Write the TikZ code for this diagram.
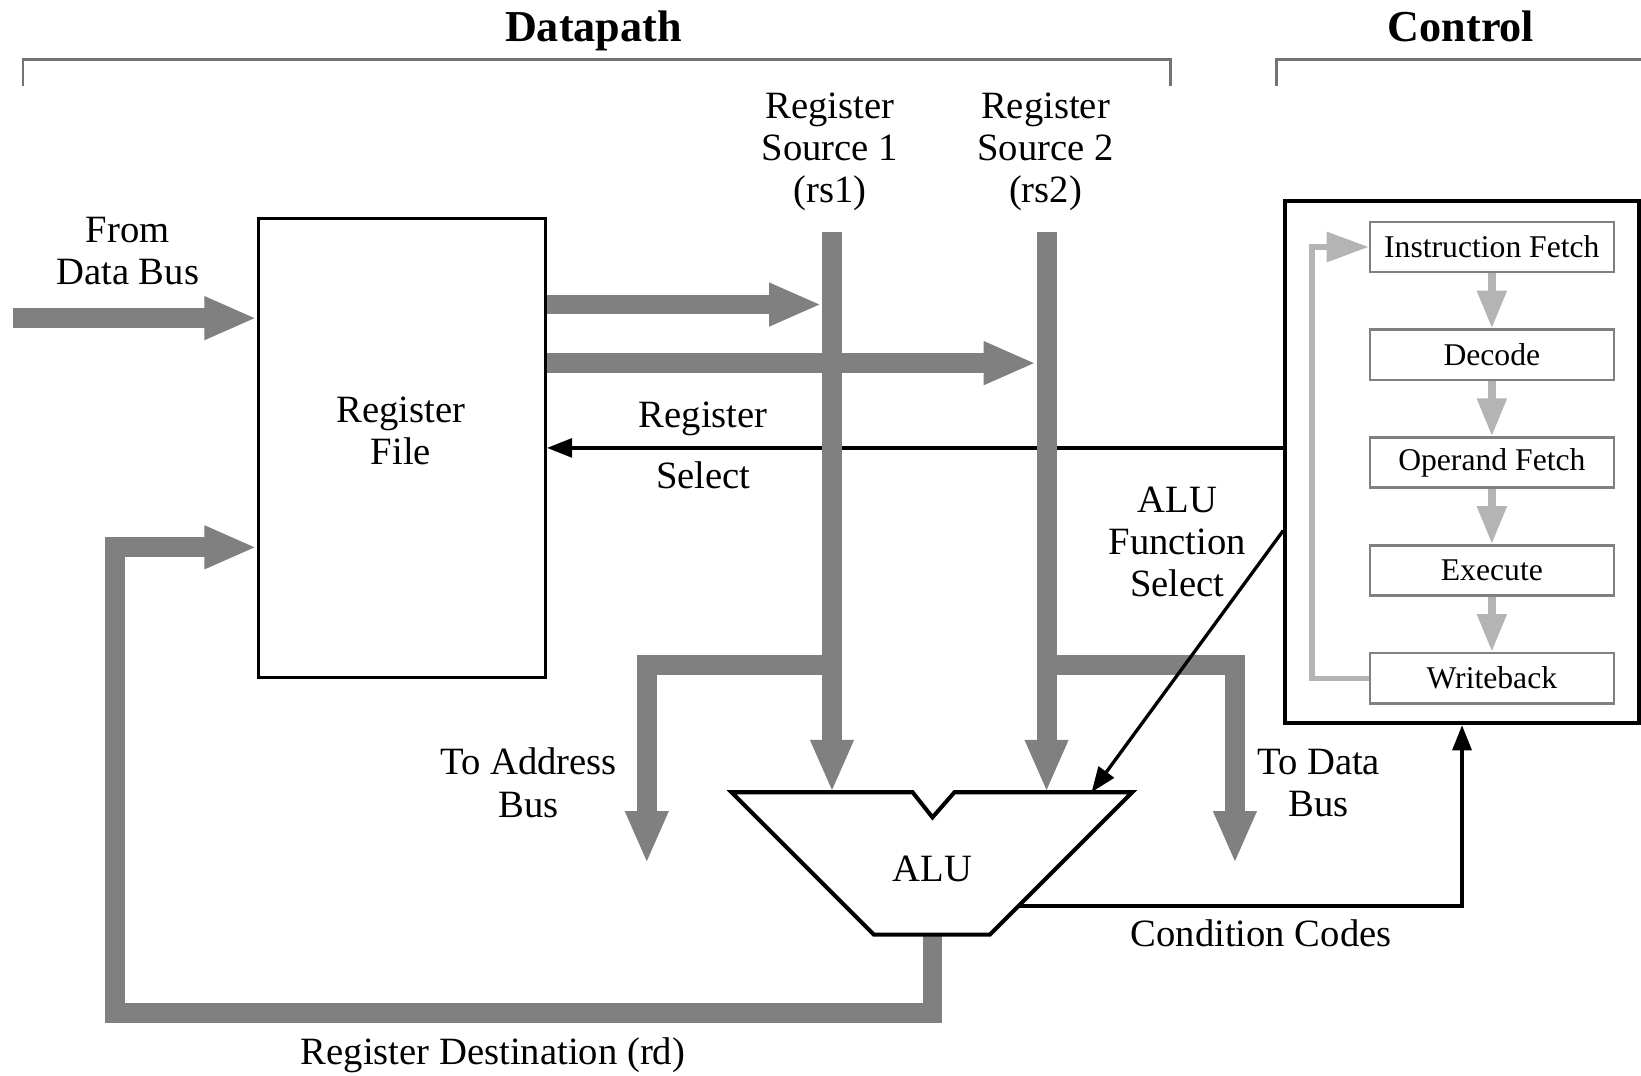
\documentclass[tikz,border=0pt]{standalone}
\usepackage{fontspec}
\setmainfont{Liberation Serif}
\usetikzlibrary{arrows.meta,positioning}

\definecolor{busgray}{RGB}{128,128,128}
\definecolor{stagegray}{RGB}{180,180,180}

\tikzset{
  lbl/.style={inner sep=0pt, align=center, font=\fontsize{10.5}{11.5}\selectfont},
  headlbl/.style={inner sep=0pt, anchor=base, font=\bfseries\fontsize{12}{14}\selectfont},
  bus/.style={draw=busgray, line width=0.19cm},
  busarrow/.style={bus, -{Triangle[length=0.5cm, width=0.38cm]}},
  sig/.style={draw=black, line width=0.9pt},
  sigarrow/.style={sig, -{Triangle[length=0.24cm, width=0.18cm]}},
  stagebox/.style={draw=black!50, line width=0.7pt, fill=white,
    minimum width=2.33cm, minimum height=0.48cm, inner sep=0pt,
    font=\fontsize{8.6}{10}\selectfont},
  stagearrow/.style={draw=stagegray, line width=0.07cm,
    -{Triangle[length=0.36cm, width=0.27cm]}},
  bracket/.style={draw=black!55, line width=0.8pt},
}

\begin{document}
\begin{tikzpicture}[x=0.01cm, y=-0.01cm]
  \useasboundingbox (0,0) rectangle (1568,1028);

  % headings
  \node[headlbl] (dphead) at (567,40) {Datapath};
  \node[headlbl] (cthead) at (1396,40) {Control};
  \draw[bracket] (22,82) -- (22,57) -- (1118,57) -- (1118,82);
  \draw[bracket] (1220,82) -- (1220,57) -- (1575,57);

  % register file
  \node[draw, line width=0.9pt, minimum width=2.74cm, minimum height=4.38cm,
    inner sep=0pt] (rf) at (384,428) {};
  \node[lbl] (rflbl) at (383,412) {Register\\File};

  % control unit
  \node[draw, line width=1pt, minimum width=3.38cm, minimum height=4.99cm,
    inner sep=0pt] (ctrl) at (1397,441.5) {};
  \foreach \name/\txt [count=\i from 0] in {ifetch/Instruction Fetch,
      decode/Decode, ofetch/Operand Fetch, exec/Execute, wback/Writeback}
    \node[stagebox] (\name) at (1425.5,236+103*\i) {\txt};
  \foreach \a/\b in {ifetch/decode, decode/ofetch, ofetch/exec, exec/wback}
    \draw[stagearrow] (\a) -- (\b);
  \draw[draw=stagegray, line width=0.05cm,
    -{Triangle[length=0.4cm, width=0.28cm]}]
    (wback.west) -- ++(-54,0) |- (ifetch.west);

  % source registers
  \node[lbl] (rs1) at (793,145) {Register\\Source 1\\(rs1)};
  \node[lbl] (rs2) at (999,145) {Register\\Source 2\\(rs2)};
  \coordinate (rs1top) at (795,222);
  \coordinate (rs2top) at (1000,222);
  \coordinate (rs1in) at (785,291);
  \coordinate (rs2in) at (990,347);
  \coordinate (dbin) at (12,304);
  \coordinate (addr) at (618,825);
  \coordinate (dbout) at (1180,825);

  % ALU points
  \coordinate (alua) at (795,757);
  \coordinate (alub) at (1000,757);
  \coordinate (aluf) at (1043,757);
  \coordinate (aluout) at (891,893);
  \coordinate (alucc) at (973,866);
  \coordinate (fsin) at (ctrl.west |- 0,507);

  % control signals under the buses
  \draw[sigarrow] (ctrl.west |- rf.east) -- (rf.east);
  \node[lbl] (selA) at (672,400) {Register};
  \node[lbl] (selB) at (672,454) {Select};

  % buses
  \draw[busarrow] (dbin) -- (rf.west |- dbin);
  \draw[busarrow] (rf.east |- rs1in) -- (rs1in);
  \draw[busarrow] (rf.east |- rs2in) -- (rs2in);
  \draw[busarrow] (rs1top) -- (alua);
  \draw[busarrow] (rs2top) -- (alub);
  \draw[busarrow] (rs1top |- 0,635) -| (addr);
  \draw[busarrow] (rs2top |- 0,635) -| (dbout);
  \draw[busarrow] (aluout) |- (110,968) |- (rf.west |- 0,523);

  \node[lbl] (fromdb) at (122,240) {From\\Data Bus};
  \node[lbl] (toaddr) at (505,748) {To Address\\Bus};
  \node[lbl] (todb) at (1260,748) {To Data\\Bus};
  \node[lbl] (rdlbl) at (471,1008) {Register Destination (rd)};

  % ALU
  \draw[line width=1.1pt, fill=white] (699,757) -- (872,757) -- (891,781)
    -- (912,757) -- (1082,757) -- (946,893) -- (835,893) -- cycle;
  \node[lbl] (alu) at (891,830) {ALU};

  \draw[sigarrow] (fsin) -- (aluf);
  \node[lbl] (fslbl) at (1125,518) {ALU\\Function\\Select};
  \draw[sigarrow, line width=1pt] (alucc) -| (ctrl.south);
  \node[lbl] (cclbl) at (1205,892) {Condition Codes};
\end{tikzpicture}
\end{document}
